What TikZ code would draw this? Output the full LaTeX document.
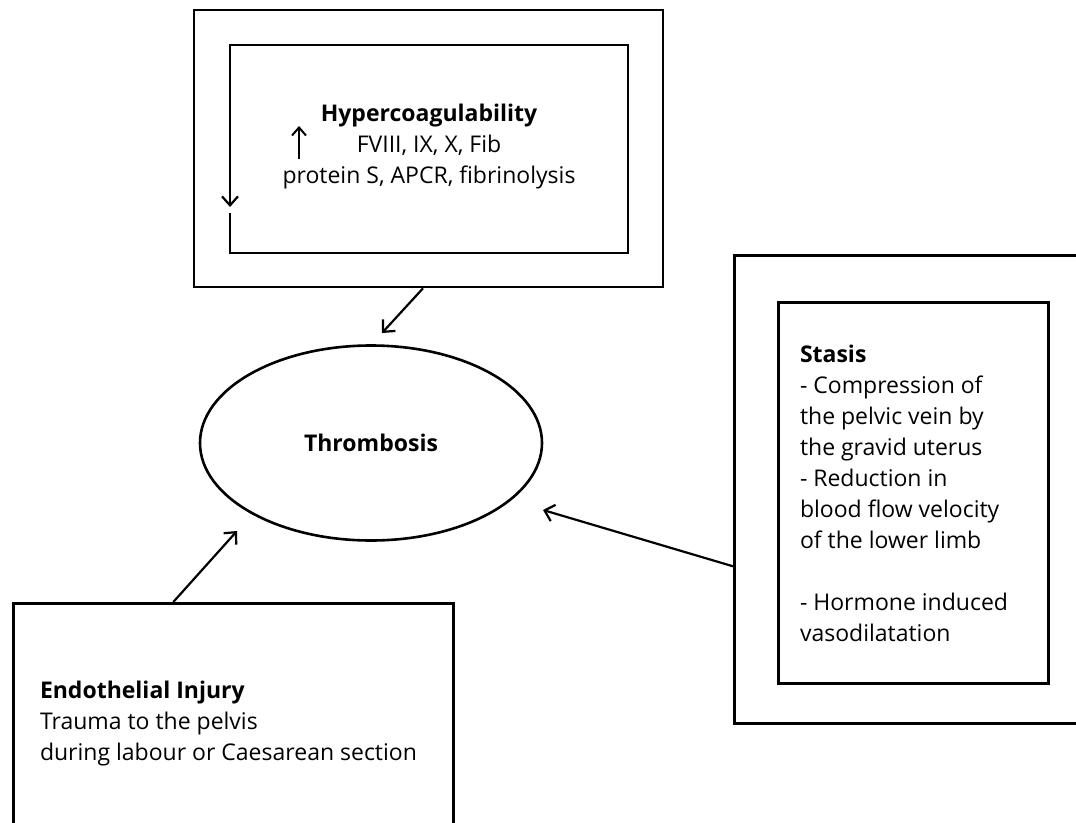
\documentclass[tikz,border=0pt]{standalone}
\usepackage{fontspec}
\setmainfont{Open Sans}
\usetikzlibrary{arrows.meta,positioning,shapes.geometric,calc}

\begin{document}
\begin{tikzpicture}[
x=1pt, y=-1pt,
box/.style={
	draw,
	line width=2.6pt,
	inner sep=0pt,
},
	txt/.style={
	inner sep=0pt,
	outer sep=0pt,
	font=\fontsize{23}{31}\selectfont,
},
link/.style={
	line width=2.2pt,
	-{Straight Barb[length=9pt,width=17pt,line width=2.2pt]},
},
]

\useasboundingbox (0,0) rectangle (1076,822);
\clip (0,0) rectangle (1076,822);

% hypercoagulability
\node[box, minimum width=469pt, minimum height=277pt] (hypOut) at (428.5,148.5) {};
\draw[line width=2.6pt, -{Straight Barb[length=9pt,width=16pt,line width=2.2pt]}]
	(230,213) -- (230,253) -- (628,253) -- (628,45) -- (230,45) -- (230,207);
\node[txt, align=center] (hypTxt) at (429,147) {\textbf{Hypercoagulability}\\FVIII, IX, X, Fib\\protein S, APCR, fibrinolysis};
\draw[line width=2pt, -{Straight Barb[length=8pt,width=14pt,line width=2pt]}] (299,159) -- (299,126);

\node[ellipse, draw, line width=2.6pt, minimum width=342pt, minimum height=195pt, font=\fontsize{23}{31}\selectfont] (thromb) at (371,443) {\textbf{Thrombosis}};

% stasis
\node[box, minimum width=400pt, minimum height=468pt, anchor=north west] (stasOut) at (733,254) {};
\node[box, minimum width=270pt, minimum height=381pt, anchor=north west] (stasIn) at (777,301) {};
\node[txt, align=left, anchor=north west] (stasTxt) at (800,345) {\textbf{Stasis}\\- Compression of\\the pelvic vein by\\the gravid uterus\\- Reduction in\\blood flow velocity\\of the lower limb\\[31pt]- Hormone induced\\vasodilatation};

% endothelial injury
\node[box, minimum width=440pt, minimum height=260pt, anchor=north west] (endoOut) at (12,602) {};
\node[txt, align=left, anchor=north west] (endoTxt) at (40,681) {\textbf{Endothelial Injury}\\Trauma to the pelvis\\during labour or Caesarean section};

\coordinate (hypTip) at (382,333);
\coordinate (endoTip) at (237,531);
\coordinate (stasTip) at (543,510);

\draw[link] ([xshift=-5.5pt]hypOut.south) to (hypTip);
\draw[link] ([xshift=-60pt]endoOut.north) to (endoTip);
\draw[link] ([yshift=-77pt]stasOut.west) to (stasTip);

\end{tikzpicture}
\end{document}
